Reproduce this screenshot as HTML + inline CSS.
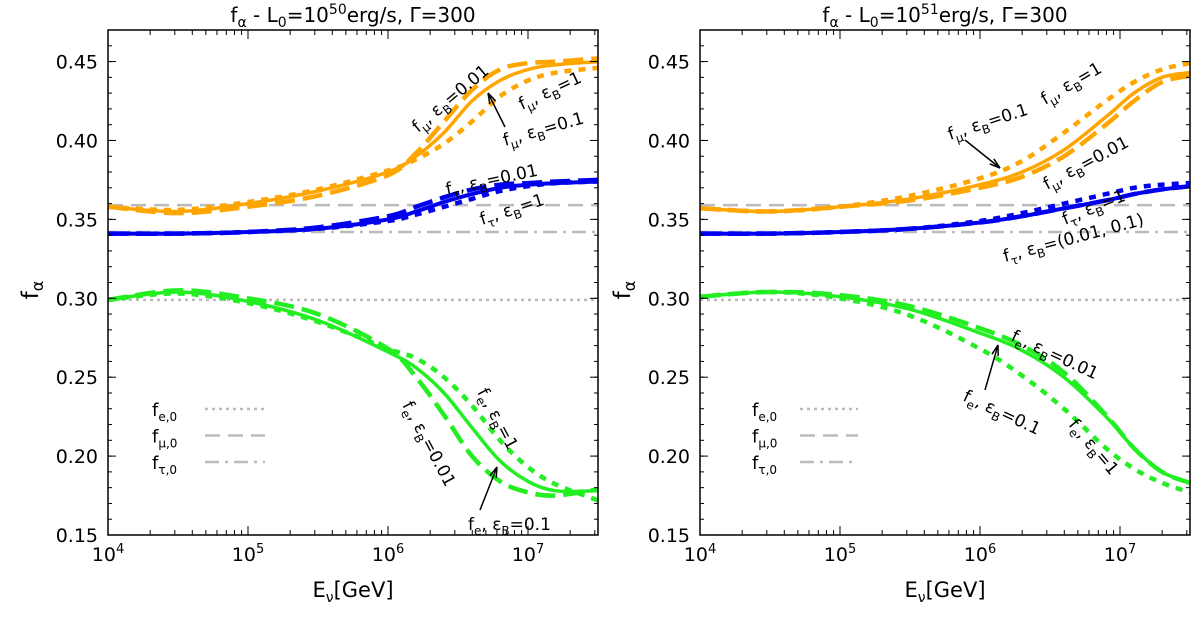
<!DOCTYPE html>
<html><head><meta charset="utf-8"><style>
body{margin:0;background:#fff;}
svg{display:block;font-family:"DejaVu Sans","Liberation Sans",sans-serif;}
</style></head><body>
<svg id="c" width="1200" height="617" viewBox="0 0 1200 617"></svg>
<script>
// log10(E) grid
const xsL = [4,4.5,5,5.5,6,6.2,6.4,6.6,6.8,7,7.2,7.5];
const muSolidL  = [0.358,0.355,0.360,0.368,0.380,0.390,0.405,0.425,0.438,0.445,0.448,0.450];
const muDashL   = [0.358,0.354,0.358,0.365,0.378,0.392,0.412,0.432,0.445,0.449,0.450,0.452];
const muDotL    = [0.358,0.356,0.361,0.369,0.381,0.388,0.398,0.412,0.428,0.438,0.443,0.446];
const tauSolidL = [0.341,0.341,0.342,0.344,0.350,0.355,0.361,0.366,0.370,0.372,0.373,0.374];
const tauDashL  = [0.341,0.341,0.342,0.345,0.352,0.358,0.364,0.369,0.372,0.373,0.374,0.375];
const tauDotL   = [0.341,0.341,0.342,0.344,0.349,0.353,0.358,0.363,0.368,0.371,0.373,0.374];
const eSolidL   = [0.299,0.304,0.298,0.286,0.266,0.256,0.240,0.218,0.197,0.184,0.178,0.178];
const eDashL    = [0.299,0.305,0.300,0.290,0.268,0.250,0.226,0.200,0.184,0.177,0.175,0.179];
const eDotL     = [0.299,0.303,0.297,0.285,0.268,0.262,0.250,0.232,0.210,0.193,0.182,0.172];

const xsR = [4,4.5,5,5.5,6,6.3,6.6,6.9,7.1,7.3,7.5];
const muSolidR  = [0.357,0.355,0.358,0.363,0.372,0.380,0.394,0.415,0.430,0.440,0.443];
const muDashR   = [0.357,0.355,0.358,0.362,0.370,0.377,0.390,0.410,0.425,0.437,0.441];
const muDotR    = [0.357,0.355,0.358,0.365,0.376,0.387,0.405,0.425,0.437,0.445,0.449];
const tauSolidR = [0.341,0.341,0.342,0.344,0.348,0.352,0.357,0.362,0.366,0.369,0.371];
const tauDashR  = [0.341,0.341,0.342,0.344,0.348,0.352,0.357,0.362,0.366,0.369,0.371];
const tauDotR   = [0.341,0.341,0.342,0.344,0.349,0.354,0.360,0.366,0.370,0.372,0.373];
const eSolidR   = [0.301,0.304,0.301,0.293,0.278,0.267,0.250,0.225,0.205,0.190,0.183];
const eDashR    = [0.301,0.304,0.302,0.295,0.281,0.270,0.253,0.226,0.205,0.190,0.183];
const eDotR     = [0.301,0.304,0.300,0.289,0.268,0.251,0.230,0.205,0.192,0.183,0.177];

const refVals = [0.359,0.342,0.299];
const yTicks = [0.15,0.20,0.25,0.30,0.35,0.40,0.45];
const xTicks = [4,5,6,7];

const NS="http://www.w3.org/2000/svg";
const svg=document.getElementById('c');
function el(tag,attrs,parent){const e=document.createElementNS(NS,tag);for(const k in attrs)e.setAttribute(k,attrs[k]);(parent||svg).appendChild(e);return e;}

function smooth(pts){
  let d='M'+pts[0][0].toFixed(1)+','+pts[0][1].toFixed(1);
  for(let i=0;i<pts.length-1;i++){
    const p0=pts[Math.max(0,i-1)],p1=pts[i],p2=pts[i+1],p3=pts[Math.min(pts.length-1,i+2)];
    const c1=[p1[0]+(p2[0]-p0[0])/6,p1[1]+(p2[1]-p0[1])/6];
    const c2=[p2[0]-(p3[0]-p1[0])/6,p2[1]-(p3[1]-p1[1])/6];
    d+=` C${c1[0].toFixed(1)},${c1[1].toFixed(1)} ${c2[0].toFixed(1)},${c2[1].toFixed(1)} ${p2[0].toFixed(1)},${p2[1].toFixed(1)}`;
  }
  return d;
}

function panel(x0,exp,xs,series,labels,name){
  const g=el('g',{});
  
  
  const W=490,top=30,bot=535;
  const X=v=>x0+(v-4)/3.5*W;
  const Y=f=>bot-(f-0.15)/0.32*(bot-top);
  const refDash=['15,8','14,6,3,6','3,4'];
  refVals.forEach((v,i)=>{const l=el('line',{x1:x0,x2:x0+W,y1:Y(v),y2:Y(v),stroke:'#bbb','stroke-width':2.5,'stroke-dasharray':refDash[i]},g);
    });
  series.forEach(s=>{
    const d=smooth(xs.map((x,i)=>[X(x),Y(s.v[i])]));
    const p=el('path',{d:d,fill:'none',stroke:s.c,'stroke-width':s.w,'stroke-dasharray':s.da||'none','stroke-linecap':'butt'},g);
    
  });
  el('rect',{x:x0,y:top,width:W,height:bot-top,fill:'none',stroke:'#000','stroke-width':1.5},g);
  yTicks.forEach(t=>{const y=Y(t);
    el('line',{x1:x0,x2:x0+8,y1:y,y2:y,stroke:'#000','stroke-width':1},g);
    el('line',{x1:x0+W,x2:x0+W-8,y1:y,y2:y,stroke:'#000','stroke-width':1},g);
    const tx=el('text',{x:x0-10,y:y+7,'text-anchor':'end','font-size':19},g);tx.textContent=t.toFixed(2);
    });
  for(let f=0.16;f<0.465;f+=0.01){const y=Y(f);el('line',{x1:x0,x2:x0+4,y1:y,y2:y,stroke:'#000','stroke-width':1},g);el('line',{x1:x0+W,x2:x0+W-4,y1:y,y2:y,stroke:'#000','stroke-width':1},g);}
  xTicks.forEach(t=>{const x=X(t);
    el('line',{x1:x,x2:x,y1:bot,y2:bot-9,stroke:'#000'},g);el('line',{x1:x,x2:x,y1:top,y2:top+9,stroke:'#000'},g);
    const tx=el('text',{x:x,y:bot+26,'text-anchor':'middle','font-size':19},g);
    tx.innerHTML='10<tspan dy="-8" font-size="13">'+t+'</tspan>';
    
    for(let m=2;m<10;m++){const xm=X(t+Math.log10(m));if(xm<=x0+W){el('line',{x1:xm,x2:xm,y1:bot,y2:bot-5,stroke:'#000'},g);el('line',{x1:xm,x2:xm,y1:top,y2:top+5,stroke:'#000'},g);}}
  });
  const tt=el('text',{x:x0+W/2,y:22,'text-anchor':'middle','font-size':20},g);
  tt.innerHTML='f<tspan dy="5" font-size="14">α</tspan><tspan dy="-5"> - L</tspan><tspan dy="5" font-size="14">0</tspan><tspan dy="-5">=10</tspan><tspan dy="-8" font-size="14">'+exp+'</tspan><tspan dy="8">erg/s, Γ=300</tspan>';
  
  const xl=el('text',{x:x0+W/2,y:597,'text-anchor':'middle','font-size':21},g);
  xl.innerHTML='E<tspan dy="5" font-size="14">ν</tspan><tspan dy="-5">[GeV]</tspan>';
  
  const yl=el('text',{x:0,y:0,'text-anchor':'middle','font-size':23,transform:`translate(${x0-70},290) rotate(-90)`},g);
  yl.innerHTML='f<tspan dy="5" font-size="16">α</tspan>';
  
  labels.forEach(L=>{const t=el('text',{x:0,y:0,'font-size':L.s||17,transform:`translate(${L.x},${L.y}) rotate(${L.r})`},g);t.innerHTML=L.h;
    });
  return g;
}
const OR='#ffa500',BL='#0000ee',GR='#22ee22';
function mk(a,b,c,d,e,f,g,h,i){return [
 {v:a,c:OR,w:3.5,n:'mu-eps-0.1'},{v:b,c:OR,w:4.5,da:'20,8',n:'mu-eps-0.01'},{v:c,c:OR,w:4.5,da:'7,7',n:'mu-eps-1'},
 {v:d,c:BL,w:4,n:'tau-eps-0.1'},{v:e,c:BL,w:4.5,da:'20,8',n:'tau-eps-0.01'},{v:f,c:BL,w:4.5,da:'7,7',n:'tau-eps-1'},
 {v:g,c:GR,w:3.5,n:'e-eps-0.1'},{v:h,c:GR,w:4.5,da:'20,8',n:'e-eps-0.01'},{v:i,c:GR,w:4.5,da:'7,7',n:'e-eps-1'}];}
const lab=(a,e)=>'f<tspan dy="5" font-size="12">'+a+'</tspan><tspan dy="-5">, ε</tspan><tspan dy="5" font-size="12">B</tspan><tspan dy="-5">='+e+'</tspan>';
panel(108,50,xsL,mk(muSolidL,muDashL,muDotL,tauSolidL,tauDashL,tauDotL,eSolidL,eDashL,eDotL),[
 {x:418,y:133,r:-40,h:lab('μ','0.01')},{x:522,y:110,r:-25,h:lab('μ','1')},{x:505,y:146,r:-16,h:lab('μ','0.1')},
 {x:447,y:195,r:-12,h:lab('τ','0.01')},{x:482,y:225,r:-18,h:lab('τ','1')},
 {x:402,y:405,r:62,h:lab('e','0.01')},{x:477,y:392,r:62,h:lab('e','1')},{x:468,y:530,r:0,h:lab('e','0.1')}],'left-panel');
panel(700,51,xsR,mk(muSolidR,muDashR,muDotR,tauSolidR,tauDashR,tauDotR,eSolidR,eDashR,eDotR),[
 {x:950,y:140,r:-18,h:lab('μ','0.1')},{x:1045,y:105,r:-30,h:lab('μ','1')},{x:1047,y:190,r:-28,h:lab('μ','0.01')},
 {x:1065,y:225,r:-22,h:lab('τ','1')},{x:1005,y:262,r:-15,h:lab('τ','(0.01, 0.1)')},
 {x:1010,y:340,r:25,h:lab('e','0.01')},{x:962,y:400,r:25,h:lab('e','0.1')},{x:1068,y:425,r:50,h:lab('e','1')}],'right-panel');
function arrow(x1,y1,x2,y2,nm){const l=el('line',{x1,y1,x2,y2,stroke:'#000','stroke-width':1.5});
 const a=Math.atan2(y2-y1,x2-x1),s=11;el('path',{d:`M${x2},${y2} L${x2-s*Math.cos(a-0.3)},${y2-s*Math.sin(a-0.3)} M${x2},${y2} L${x2-s*Math.cos(a+0.3)},${y2-s*Math.sin(a+0.3)}`,stroke:'#000','stroke-width':1.5,fill:'none'});}
arrow(505,127,488,93,'mu-arrow-left');
arrow(480,510,497,467,'e-arrow-left');
arrow(985,390,998,345,'e-arrow-right');
arrow(965,140,1000,168,'mu-arrow-right');
const legs=[['e','3,4'],['μ','15,8'],['τ','14,6,3,6']];
legs.forEach((L,i)=>{const y=409+i*26.5;
 const t=el('text',{x:152,y:y+7,'font-size':18});t.innerHTML='f<tspan dy="5" font-size="12">'+L[0]+',0</tspan>';
 
 el('line',{x1:205,x2:265,y1:y,y2:y,stroke:'#bbb','stroke-width':2.5,'stroke-dasharray':L[1]});
 const t2=el('text',{x:752,y:y+7,'font-size':18});t2.innerHTML='f<tspan dy="5" font-size="12">'+L[0]+',0</tspan>';
 
 el('line',{x1:800,x2:858,y1:y,y2:y,stroke:'#bbb','stroke-width':2.5,'stroke-dasharray':L[1]});
});
</script>
</body></html>
